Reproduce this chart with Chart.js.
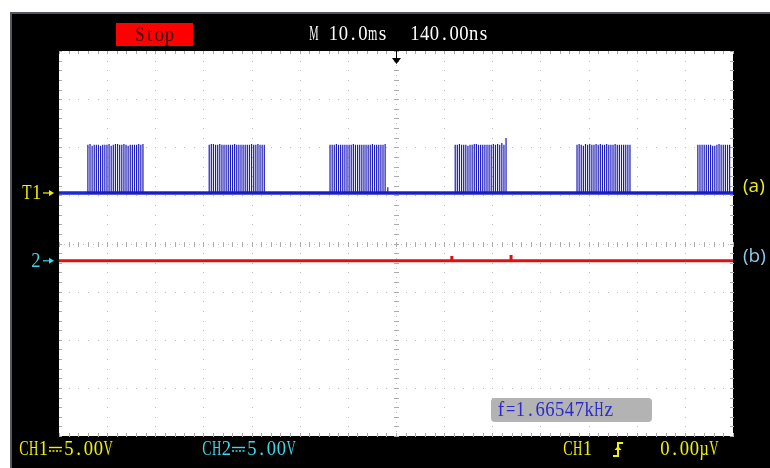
<!DOCTYPE html>
<html>
<head>
<meta charset="utf-8">
<script src="https://cdn.jsdelivr.net/npm/chart.js@4.4.1/dist/chart.umd.min.js"></script>
<style>
  html, body { margin: 0; padding: 0; background: #ffffff; }
  #wrap { width: 770px; height: 468px; }
</style>
</head>
<body>
<div id="wrap"><canvas id="scope" width="770" height="468"></canvas></div>
<script>
// Time base: 10 ms/div over 14 divisions, trigger at the centre (0 ms)
const timeTicks = [-70, -60, -50, -40, -30, -20, -10, 0, 10, 20, 30, 40, 50, 60, 70];
// Vertical screen: 8 divisions, centre line at 0
const divTicks = [-4, -3, -2, -1, 0, 1, 2, 3, 4];

// Channel settings
const ch1VoltsPerDiv = 5.0;
const ch2VoltsPerDiv = 5.0;
const ch1OffsetDiv = 1.05;   // CH1 ground marker above centre
const ch2OffsetDiv = -0.36;  // CH2 ground marker below centre

// CH1 (a): bursts of pulses, start time of each burst in ms
const burstStarts = [-64.0, -38.8, -13.7, 12.3, 37.6, 62.7];
const pulseSpacing = 0.44; // ms between pulses inside a burst
// CH1 pulse amplitudes (V) inside each burst
const burstHeights = [
  [5.0, 5.1, 4.9, 5.0, 5.0, 5.0, 4.9, 5.0, 5.0, 5.0, 5.1, 4.9, 5.0, 5.1, 5.1, 5.0, 5.0, 5.1, 5.0, 4.9, 5.0, 5.0, 5.0, 5.0, 5.1, 5.0, 5.1],
  [5.0, 5.1, 5.1, 5.0, 5.0, 5.1, 5.0, 5.0, 5.0, 5.0, 5.0, 5.0, 5.1, 5.0, 5.0, 5.0, 5.0, 5.0, 5.0, 5.0, 5.1, 5.0, 5.0, 5.1, 5.0, 5.0, 5.0],
  [5.0, 5.0, 5.0, 5.1, 5.0, 5.0, 5.0, 5.0, 5.0, 5.0, 5.0, 5.1, 5.0, 5.0, 5.0, 5.0, 5.0, 5.0, 5.0, 5.0, 5.1, 5.0, 5.0, 5.0, 5.0, 5.0, 5.1],
  [5.0, 5.0, 5.1, 5.0, 5.0, 5.0, 4.9, 5.0, 5.0, 5.1, 5.1, 5.0, 5.0, 5.0, 5.0, 5.0, 5.0, 5.0, 5.1, 5.0, 5.1, 5.0, 5.2, 5.0, 5.7],
  [5.0, 5.1, 5.0, 4.9, 5.1, 5.0, 5.1, 5.0, 5.0, 5.1, 5.0, 5.1, 5.0, 5.0, 5.1, 5.0, 5.0, 5.0, 5.1, 5.0, 5.0, 5.0, 5.0, 5.0, 5.0, 5.0],
  [5.0, 5.0, 5.0, 5.0, 5.0, 5.0, 5.0, 4.9, 4.9, 5.0, 5.1, 5.0, 5.0, 5.0, 5.0, 5.0]
];
// Small isolated blips on CH1 after a burst (time ms, amplitude V)
const ch1BlipTimes = [-1.7];
const ch1BlipVolts = [0.6];

// CH2 (b): flat trace with two small glitches
const ch2GlitchTimes = [11.6, 23.9];
const ch2GlitchVolts = [0.5, 0.6];

const measuredFreq = 'f=1.66547kHz';

// ---- build datasets ----
const ch1Pulses = [];
burstStarts.forEach((t0, b) => {
  burstHeights[b].forEach((v, i) => {
    const t = t0 + i * pulseSpacing;
    const y = ch1OffsetDiv + v / ch1VoltsPerDiv;
    ch1Pulses.push({ x: t, y: ch1OffsetDiv }, { x: t, y: y }, { x: t, y: ch1OffsetDiv });
  });
});
ch1BlipTimes.forEach((t, i) => {
  ch1Pulses.push({ x: t, y: ch1OffsetDiv }, { x: t, y: ch1OffsetDiv + ch1BlipVolts[i] / ch1VoltsPerDiv }, { x: t, y: ch1OffsetDiv });
});
ch1Pulses.sort((a, b) => a.x - b.x);

const ch1Base = [{ x: timeTicks[0], y: ch1OffsetDiv }, { x: timeTicks[timeTicks.length - 1], y: ch1OffsetDiv }];

const ch2Trace = [{ x: timeTicks[0], y: ch2OffsetDiv }];
ch2GlitchTimes.forEach((t, i) => {
  ch2Trace.push({ x: t, y: ch2OffsetDiv }, { x: t, y: ch2OffsetDiv + ch2GlitchVolts[i] / ch2VoltsPerDiv }, { x: t, y: ch2OffsetDiv });
});
ch2Trace.push({ x: timeTicks[timeTicks.length - 1], y: ch2OffsetDiv });

// ---- drawing helpers ----
// Instrument font: every character sits in a fixed half-width cell
const CELL = 9.8;
function scopeText(ctx, str, x, y, color, size) {
  ctx.save();
  ctx.font = size + 'px "Liberation Serif"';
  ctx.fillStyle = color;
  ctx.textBaseline = 'middle';
  ctx.textAlign = 'center';
  let cx = x;
  for (const ch of str) {
    const w = ctx.measureText(ch).width;
    const s = Math.min(0.88, (CELL * 0.95) / w);
    ctx.save();
    ctx.translate(cx + CELL / 2, y);
    ctx.scale(s, 1);
    ctx.fillText(ch, 0, 0);
    ctx.restore();
    cx += CELL;
  }
  ctx.restore();
  return cx;
}

function sansText(ctx, str, x, y, color, size) {
  ctx.save();
  ctx.font = size + 'px "Open Sans"';
  ctx.fillStyle = color;
  ctx.textBaseline = 'middle';
  ctx.textAlign = 'left';
  ctx.fillText(str, x, y);
  ctx.restore();
}

function markerArrow(ctx, x, y, color) {
  ctx.save();
  ctx.strokeStyle = color;
  ctx.fillStyle = color;
  ctx.lineWidth = 1.2;
  ctx.beginPath(); ctx.moveTo(x, y); ctx.lineTo(x + 8, y); ctx.stroke();
  ctx.beginPath(); ctx.moveTo(x + 11, y); ctx.lineTo(x + 6, y - 3); ctx.lineTo(x + 6, y + 3); ctx.closePath(); ctx.fill();
  ctx.restore();
}

function dcSymbol(ctx, x, y, w, color) {
  ctx.save();
  ctx.strokeStyle = color;
  ctx.lineWidth = 1.4;
  ctx.beginPath();
  ctx.moveTo(x, y - 1.5); ctx.lineTo(x + w, y - 1.5);
  ctx.stroke();
  ctx.setLineDash([2, 1.5]);
  ctx.beginPath();
  ctx.moveTo(x, y + 2); ctx.lineTo(x + w, y + 2);
  ctx.stroke();
  ctx.restore();
}

const YELLOW = '#f2f200';
const CYAN = '#3fd8e8';

const screenPlugin = {
  id: 'screen',
  beforeDraw(chart) {
    const ctx = chart.ctx;
    const a = chart.chartArea;
    ctx.save();
    ctx.fillStyle = '#ffffff';
    ctx.fillRect(0, 0, chart.width, chart.height);
    // instrument frame
    ctx.fillStyle = '#55585e';
    ctx.fillRect(10, 12, chart.width - 10, chart.height - 12);
    ctx.fillStyle = '#000000';
    ctx.fillRect(12, 14, chart.width - 12, chart.height - 14);
    // graticule background
    ctx.fillStyle = '#ffffff';
    ctx.fillRect(a.left, a.top, a.right - a.left, a.bottom - a.top);

    const xs = chart.scales.x, ys = chart.scales.y;
    const divW = (a.right - a.left) / (timeTicks.length - 1);
    const divH = (a.bottom - a.top) / (divTicks.length - 1);
    ctx.fillStyle = '#bcbcbc';
    // horizontal dotted lines
    divTicks.forEach(d => {
      const y = Math.round(ys.getPixelForValue(d));
      const step = d === 0 ? divW / 10 : divW / 5;
      for (let x = a.left; x <= a.right; x += step) ctx.fillRect(Math.round(x), y, 1, 1);
    });
    // vertical dotted lines
    timeTicks.forEach(t => {
      const x = Math.round(xs.getPixelForValue(t));
      const step = t === 0 ? divH / 10 : divH / 5;
      for (let y = a.top; y <= a.bottom; y += step) ctx.fillRect(x, Math.round(y), 1, 1);
    });
    // minor ticks on borders and centre axes
    ctx.fillStyle = '#ababab';
    const cy = Math.round(ys.getPixelForValue(0));
    const cx = Math.round(xs.getPixelForValue(0));
    for (let x = a.left; x <= a.right + 0.5; x += divW / 5) {
      const px = Math.round(x);
      ctx.fillRect(px, a.top, 1, 3);
      ctx.fillRect(px, a.bottom - 3, 1, 3);
      ctx.fillRect(px, cy - 2, 1, 5);
    }
    for (let y = a.top; y <= a.bottom + 0.5; y += divH / 5) {
      const py = Math.round(y);
      ctx.fillRect(a.left, py, 3, 1);
      ctx.fillRect(a.right - 3, py, 3, 1);
      ctx.fillRect(cx - 2, py, 5, 1);
    }
    ctx.restore();
  },
  afterDraw(chart) {
    const ctx = chart.ctx;
    const a = chart.chartArea;
    const xs = chart.scales.x, ys = chart.scales.y;
    ctx.save();
    // status bar
    ctx.fillStyle = '#ff0000';
    ctx.fillRect(116, 23, 77, 23);
    scopeText(ctx, 'Stop', 135, 35, '#3a0000', 22);
    scopeText(ctx, 'M 10.0ms', 309, 34, '#ffffff', 22);
    scopeText(ctx, '140.00ns', 410, 34, '#ffffff', 22);

    // trigger position arrow
    const tx = Math.round(xs.getPixelForValue(0)) + 0.5;
    ctx.strokeStyle = '#000000';
    ctx.lineWidth = 1;
    ctx.beginPath(); ctx.moveTo(tx, a.top); ctx.lineTo(tx, a.top + 8); ctx.stroke();
    ctx.fillStyle = '#000000';
    ctx.beginPath();
    ctx.moveTo(tx - 4.5, a.top + 7); ctx.lineTo(tx + 4.5, a.top + 7); ctx.lineTo(tx, a.top + 13);
    ctx.closePath(); ctx.fill();

    // channel ground markers
    const y1 = ys.getPixelForValue(ch1OffsetDiv);
    const y2 = ys.getPixelForValue(ch2OffsetDiv);
    scopeText(ctx, 'T1', 22, y1, YELLOW, 22);
    markerArrow(ctx, 43, y1, YELLOW);
    scopeText(ctx, '2', 31, y2, CYAN, 22);
    markerArrow(ctx, 43, y2, CYAN);

    // trace labels
    sansText(ctx, '(a)', 743, y1 - 6, '#eded1c', 19);
    sansText(ctx, '(b)', 743, y2 - 4, '#8fc8ea', 19);

    // frequency readout
    ctx.fillStyle = '#b3b3b3';
    ctx.beginPath();
    ctx.roundRect(491, 398, 161, 24, 4);
    ctx.fill();
    scopeText(ctx, measuredFreq, 496, 410, '#2a2ad0', 22);

    // bottom status line
    const by = 449;
    scopeText(ctx, 'CH1', 19, by, YELLOW, 22);
    dcSymbol(ctx, 49, by, 13, YELLOW);
    scopeText(ctx, '5.00V', 64, by, YELLOW, 22);
    scopeText(ctx, 'CH2', 202, by, CYAN, 22);
    dcSymbol(ctx, 232, by, 13, CYAN);
    scopeText(ctx, '5.00V', 247, by, CYAN, 22);
    scopeText(ctx, 'CH1', 563, by, YELLOW, 22);
    // rising-edge trigger symbol
    ctx.strokeStyle = YELLOW;
    ctx.lineWidth = 2;
    ctx.beginPath();
    ctx.moveTo(613, by + 7); ctx.lineTo(618, by + 7); ctx.lineTo(618, by - 6); ctx.lineTo(623, by - 6);
    ctx.stroke();
    ctx.fillStyle = YELLOW;
    ctx.beginPath();
    ctx.moveTo(614.5, by + 1); ctx.lineTo(621.5, by + 1); ctx.lineTo(618, by - 3);
    ctx.closePath(); ctx.fill();
    scopeText(ctx, '0.00\u00b5V', 660, by, YELLOW, 22);
    ctx.restore();
  }
};

new Chart(document.getElementById('scope'), {
  type: 'line',
  data: {
    datasets: [
      { label: 'CH1 pulses', data: ch1Pulses, borderColor: '#1a1ab8', borderWidth: 1.2, pointRadius: 0, tension: 0 },
      { label: 'CH1', data: ch1Base, borderColor: '#1b2ad6', borderWidth: 3.5, pointRadius: 0 },
      { label: 'CH2', data: ch2Trace, borderColor: '#e01010', borderWidth: 3, pointRadius: 0 }
    ]
  },
  options: {
    responsive: false,
    animation: false,
    events: [],
    layout: { padding: { left: 59, right: 37, top: 51, bottom: 32 } },
    scales: {
      x: { type: 'linear', min: timeTicks[0], max: timeTicks[timeTicks.length - 1], display: false },
      y: { type: 'linear', min: divTicks[0], max: divTicks[divTicks.length - 1], display: false }
    },
    plugins: { legend: { display: false }, tooltip: { enabled: false } }
  },
  plugins: [screenPlugin]
});
</script>
</body>
</html>
